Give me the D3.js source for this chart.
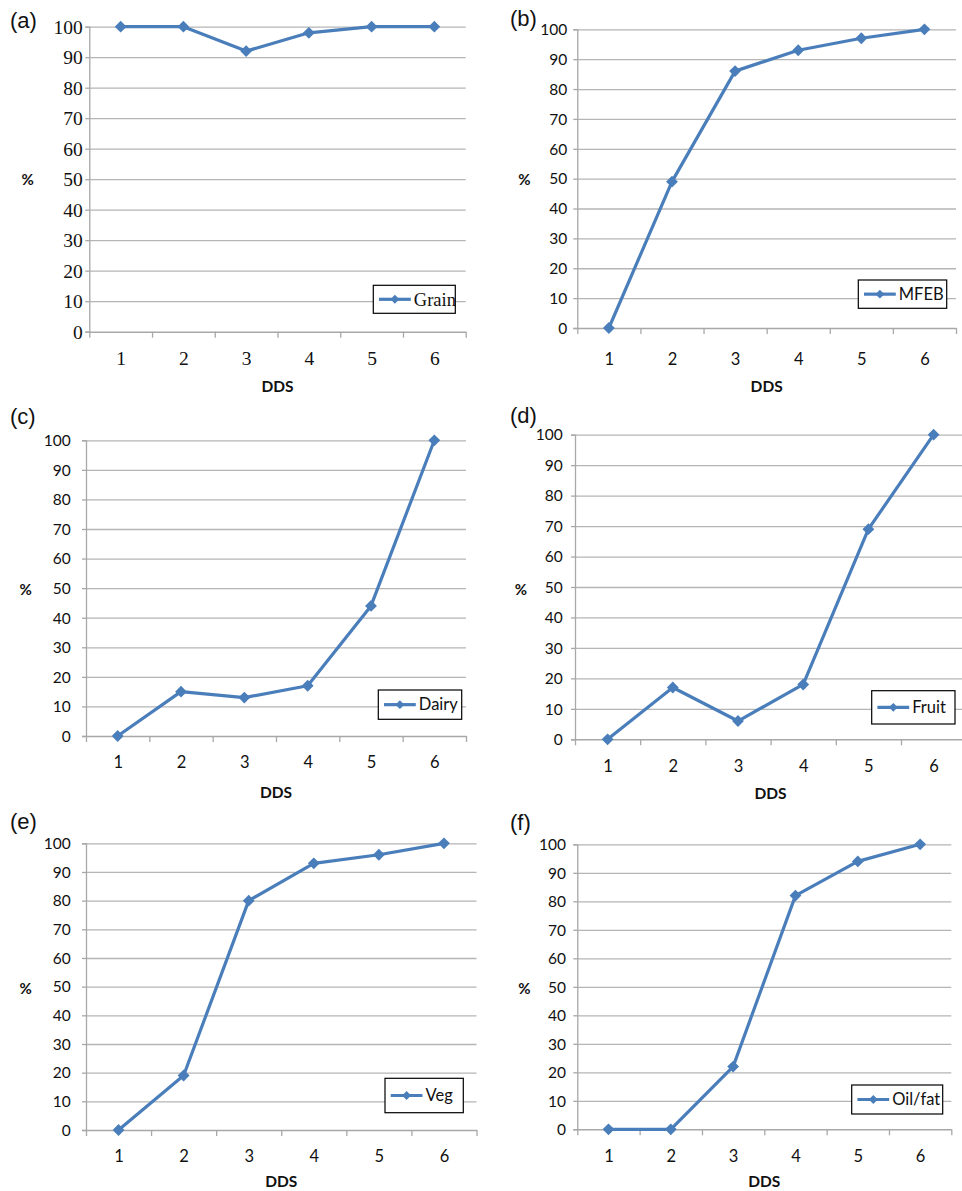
<!DOCTYPE html>
<html><head><meta charset="utf-8">
<script src="https://cdn.jsdelivr.net/npm/d3@7"></script>
<style>body{margin:0;background:#fff} svg{display:block}</style>
</head><body><svg id="c" width="962" height="1191"></svg>
<script>
// ---- data ----
const categories = [1, 2, 3, 4, 5, 6];
const yTicks = [0, 10, 20, 30, 40, 50, 60, 70, 80, 90, 100];
const panelLetters = ["(a)", "(b)", "(c)", "(d)", "(e)", "(f)"];
const seriesNames = ["Grain", "MFEB", "Dairy", "Fruit", "Veg", "Oil/fat"];
const grain  = [100, 100, 92, 98, 100, 100];
const mfeb   = [0, 49, 86, 93, 97, 100];
const dairy  = [0, 15, 13, 17, 44, 100];
const fruit  = [0, 17, 6, 18, 69, 100];
const veg    = [0, 19, 80, 93, 96, 100];
const oilFat = [0, 0, 22, 82, 94, 100];
const xTitle = "DDS";
const yTitle = "%";
const seriesValues = [grain, mfeb, dairy, fruit, veg, oilFat];

// ---- layout (positions only) ----
const layout = [
  {l:89.3, r:465.7, t:26.7, b:331.7, yLabR:82.7, xLabDy:27, titleDy:55, pct:[27.7,180], let:[10,20], leg:[373.3,285.3,455.3,313.3], serif:true},
  {l:577.3, r:956, t:29.3, b:328, yLabR:567.3, xLabDy:31, titleDy:59, pct:[524.3,180], let:[510,18], leg:[858.3,280,946.7,308.3]},
  {l:86, r:466, t:440.3, b:736, yLabR:70.7, xLabDy:26, titleDy:57, pct:[25.7,589.3], let:[10,416.7], leg:[378.3,690,461.7,719.3]},
  {l:575, r:966.2, t:434.7, b:739.3, yLabR:562.7, xLabDy:27, titleDy:54, pct:[521,589.3], let:[510,415], leg:[871.7,690.7,955,724]},
  {l:86, r:476.5, t:843.3, b:1130, yLabR:70.7, xLabDy:26, titleDy:52, pct:[25.7,988.3], let:[10,821.7], leg:[385,1078.3,463.3,1112.7]},
  {l:577.3, r:951.3, t:844.3, b:1129.3, yLabR:566, xLabDy:27, titleDy:52, pct:[524.3,988.3], let:[510,822.7], leg:[851.7,1085,942.7,1114]}
];

const LINE = "#4a7ebb", GRID = "#b5b5b5", AXIS = "#a8a8a8", TXT = "#111";
const SANS = "Lato, 'Open Sans', sans-serif";
const SERIF = "'Liberation Serif', 'DejaVu Serif', serif";
const svg = d3.select("#c");

layout.forEach((L, i) => {
  const vals = seriesValues[i];
  const tickFont = L.serif ? SERIF : SANS;
  const tickSize = L.serif ? "19.5px" : "15.5px";
  const g = svg.append("g");
  const x = d3.scaleLinear().domain([0.5, 6.5]).range([L.l, L.r]);
  const y = d3.scaleLinear().domain([0, 100]).range([L.b, L.t]);

  // gridlines
  const grid = g.append("g").attr("transform", `translate(${L.l},0)`)
    .call(d3.axisLeft(y).tickValues(yTicks.slice(1)).tickSize(-(L.r - L.l)).tickFormat(""));
  grid.select(".domain").remove();
  grid.selectAll("line").attr("stroke", GRID).attr("stroke-width", 1.3);

  // y axis
  const ya = g.append("g").attr("transform", `translate(${L.l},0)`)
    .call(d3.axisLeft(y).tickValues(yTicks).tickSize(4).tickPadding(L.l - L.yLabR - 4));
  ya.select(".domain").attr("stroke", AXIS).attr("stroke-width", 1.3);
  ya.selectAll("line").attr("stroke", AXIS).attr("stroke-width", 1.3);
  ya.selectAll("text").attr("font-family", tickFont).attr("font-size", tickSize).attr("fill", TXT).attr("dy", "0.34em");

  // x axis boundaries
  const xb = g.append("g").attr("transform", `translate(0,${L.b})`)
    .call(d3.axisBottom(x).tickValues(d3.range(0.5, 7, 1)).tickSize(6).tickSizeOuter(0).tickFormat(""));
  xb.select(".domain").attr("stroke", AXIS).attr("stroke-width", 1.5);
  xb.selectAll("line").attr("stroke", AXIS).attr("stroke-width", 1.3);

  // x labels
  const xl = g.append("g").attr("transform", `translate(0,${L.b})`)
    .call(d3.axisBottom(x).tickValues(categories).tickSize(0).tickPadding(0).tickFormat(d3.format("d")));
  xl.select(".domain").remove();
  xl.selectAll("text").attr("y", L.xLabDy).attr("dy", "0.34em")
    .attr("font-family", tickFont).attr("font-size", L.serif ? "19.5px" : "16.5px").attr("fill", TXT);

  // series line
  const pts = categories.map((c, k) => [x(c), y(vals[k])]);
  g.append("path").attr("d", d3.line()(pts)).attr("fill", "none")
    .attr("stroke", LINE).attr("stroke-width", 3.2).attr("stroke-linejoin", "round");
  const sym = d3.symbol(d3.symbolSquare, 70);
  g.selectAll(".m").data(pts).join("path").attr("d", sym())
    .attr("transform", d => `translate(${d[0]},${d[1]}) rotate(45)`)
    .attr("fill", LINE);

  // titles
  g.append("text").attr("x", (L.l + L.r) / 2).attr("y", L.b + L.titleDy).attr("dy", "0.35em")
    .attr("text-anchor", "middle").attr("font-family", SANS).attr("font-weight", "bold")
    .attr("font-size", "15.5px").attr("fill", TXT).text(xTitle);
  g.append("text").attr("x", L.pct[0]).attr("y", L.pct[1]).attr("dy", "0.35em")
    .attr("text-anchor", "middle").attr("font-family", SANS).attr("font-weight", "bold")
    .attr("font-size", "15px").attr("fill", TXT).text(yTitle);
  g.append("text").attr("x", L.let[0]).attr("y", L.let[1]).attr("dy", "0.35em")
    .attr("font-family", "'Liberation Sans', Arial, sans-serif")
    .attr("font-size", "22px").attr("fill", TXT).text(panelLetters[i]);

  // legend
  const [x0, y0, x1, y1] = L.leg;
  const lg = g.append("g");
  lg.append("rect").attr("x", x0).attr("y", y0).attr("width", x1 - x0).attr("height", y1 - y0)
    .attr("fill", "#fff").attr("stroke", "#000").attr("stroke-width", 1.2);
  const cy = (y0 + y1) / 2;
  lg.append("line").attr("x1", x0 + 5.7).attr("x2", x0 + 37.5).attr("y1", cy).attr("y2", cy)
    .attr("stroke", LINE).attr("stroke-width", 3.2);
  lg.append("path").attr("d", d3.symbol(d3.symbolSquare, 40)())
    .attr("transform", `translate(${x0 + 21.6},${cy}) rotate(45)`).attr("fill", LINE);
  lg.append("text").attr("x", x0 + 40.5).attr("y", cy).attr("dy", "0.35em")
    .attr("font-family", L.serif ? SERIF : SANS).attr("font-size", L.serif ? "18.5px" : "16.5px")
    .attr("fill", TXT).text(seriesNames[i]);
});
</script>
</body></html>
